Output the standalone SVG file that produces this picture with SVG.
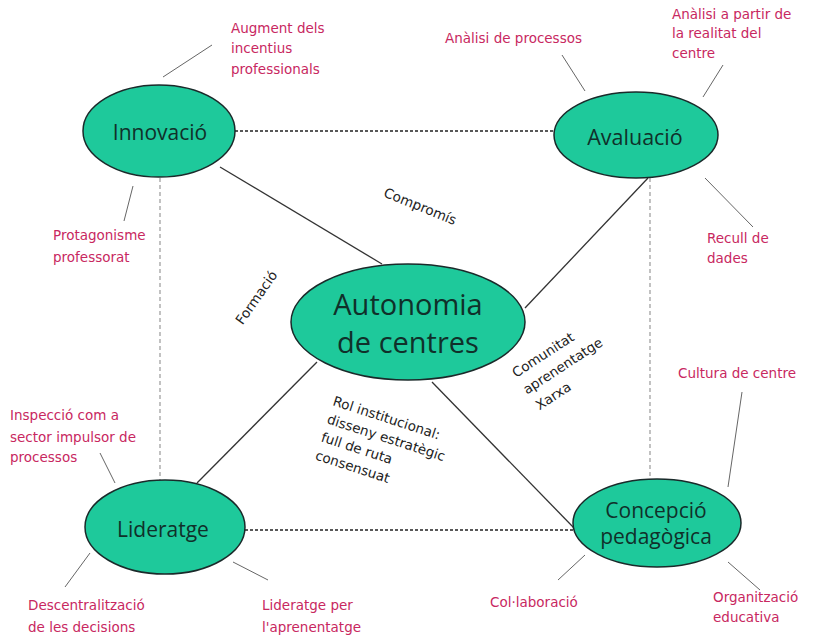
<svg xmlns="http://www.w3.org/2000/svg" width="817" height="641" viewBox="0 0 817 641">
<style>
.node{fill:#1ec99b;stroke:#1a2a2a;stroke-width:1.5}
.nt{font-family:"Open Sans","DejaVu Sans",sans-serif;fill:#10302a;text-anchor:middle}
.lab{font-family:"DejaVu Sans","Open Sans",sans-serif;font-size:13.5px;fill:#c8285f}
.dl{font-family:"DejaVu Sans","Open Sans",sans-serif;font-size:13.5px;fill:#222}
.solid{stroke:#333;stroke-width:1.3;fill:none}
.dash{stroke:#222;stroke-width:1.3;stroke-dasharray:3 2;fill:none}
.vdash{stroke:#999;stroke-width:1.2;stroke-dasharray:4 3;fill:none}
.thin{stroke:#666;stroke-width:1;fill:none}
</style>
<rect width="817" height="641" fill="#ffffff"/>
<g id="connectors">
<line class="dash" x1="235" y1="131" x2="553" y2="131"/>
<line class="dash" x1="245" y1="530" x2="573" y2="530"/>
<line class="vdash" x1="160" y1="178" x2="160" y2="480"/>
<line class="vdash" x1="650" y1="178" x2="650" y2="480"/>
<line class="solid" x1="220" y1="167" x2="382" y2="264"/>
<line class="solid" x1="525" y1="308" x2="648" y2="178"/>
<line class="solid" x1="317" y1="362" x2="197" y2="483"/>
<line class="solid" x1="432" y1="382" x2="574" y2="528"/>
<line class="thin" x1="163" y1="77" x2="212" y2="45"/>
<line class="thin" x1="562" y1="55" x2="585" y2="91"/>
<line class="thin" x1="723" y1="65" x2="703" y2="97"/>
<line class="thin" x1="705" y1="178" x2="753" y2="227"/>
<line class="thin" x1="133" y1="186" x2="124" y2="221"/>
<line class="thin" x1="100" y1="453" x2="115" y2="483"/>
<line class="thin" x1="65" y1="587" x2="90" y2="553"/>
<line class="thin" x1="233" y1="562" x2="268" y2="580"/>
<line class="thin" x1="558" y1="580" x2="585" y2="555"/>
<line class="thin" x1="728" y1="562" x2="760" y2="590"/>
<line class="thin" x1="742" y1="392" x2="728" y2="487"/>
</g>
<g id="innovacio">
<ellipse class="node" cx="159" cy="131" rx="76" ry="46"/>
<text class="nt" x="160" y="140" font-size="21">Innovació</text>
</g>
<g id="avaluacio">
<ellipse class="node" cx="636" cy="135" rx="82" ry="43"/>
<text class="nt" x="635" y="145" font-size="21.5">Avaluació</text>
</g>
<g id="autonomia">
<ellipse class="node" cx="408" cy="322" rx="117" ry="58"/>
<text class="nt" x="408" y="315" font-size="29">Autonomia</text>
<text class="nt" x="408" y="353" font-size="29">de centres</text>
</g>
<g id="lideratge">
<ellipse class="node" cx="165" cy="527" rx="80" ry="47"/>
<text class="nt" x="163" y="537" font-size="21">Lideratge</text>
</g>
<g id="concepcio">
<ellipse class="node" cx="657" cy="523" rx="84" ry="44"/>
<text class="nt" x="656" y="518" font-size="21">Concepció</text>
<text class="nt" x="656" y="544" font-size="21">pedagògica</text>
</g>
<g id="labels">
<text class="lab" x="231" y="33">Augment dels</text>
<text class="lab" x="231" y="53">incentius</text>
<text class="lab" x="231" y="74">professionals</text>
<text class="lab" x="445" y="43">Anàlisi de processos</text>
<text class="lab" x="672" y="19">Anàlisi a partir de</text>
<text class="lab" x="672" y="38">la realitat del</text>
<text class="lab" x="672" y="58">centre</text>
<text class="lab" x="707" y="243">Recull de</text>
<text class="lab" x="707" y="263">dades</text>
<text class="lab" x="53" y="240">Protagonisme</text>
<text class="lab" x="53" y="262">professorat</text>
<text class="lab" x="10" y="420">Inspecció com a</text>
<text class="lab" x="10" y="442">sector impulsor de</text>
<text class="lab" x="10" y="462">processos</text>
<text class="lab" x="28" y="610">Descentralització</text>
<text class="lab" x="28" y="632">de les decisions</text>
<text class="lab" x="262" y="610">Lideratge per</text>
<text class="lab" x="262" y="632">l'aprenentatge</text>
<text class="lab" x="490" y="607">Col·laboració</text>
<text class="lab" x="713" y="602">Organització</text>
<text class="lab" x="713" y="622">educativa</text>
<text class="lab" x="678" y="378">Cultura de centre</text>
</g>
<g id="edge-labels">
<text class="dl" x="420" y="211" text-anchor="middle" transform="rotate(22 420 207)">Compromís</text>
<text class="dl" x="257" y="302" text-anchor="middle" transform="rotate(-55 257 298)">Formació</text>
<g transform="translate(516 378) rotate(-33)">
<text class="dl" x="0" y="0">Comunitat</text>
<text class="dl" x="0" y="20">aprenentatge</text>
<text class="dl" x="2" y="40">Xarxa</text>
</g>
<g transform="translate(332 405) rotate(18)">
<text class="dl" x="0" y="0">Rol institucional:</text>
<text class="dl" x="0" y="19">disseny estratègic</text>
<text class="dl" x="0" y="38">full de ruta</text>
<text class="dl" x="0" y="57">consensuat</text>
</g>
</g>
</svg>
